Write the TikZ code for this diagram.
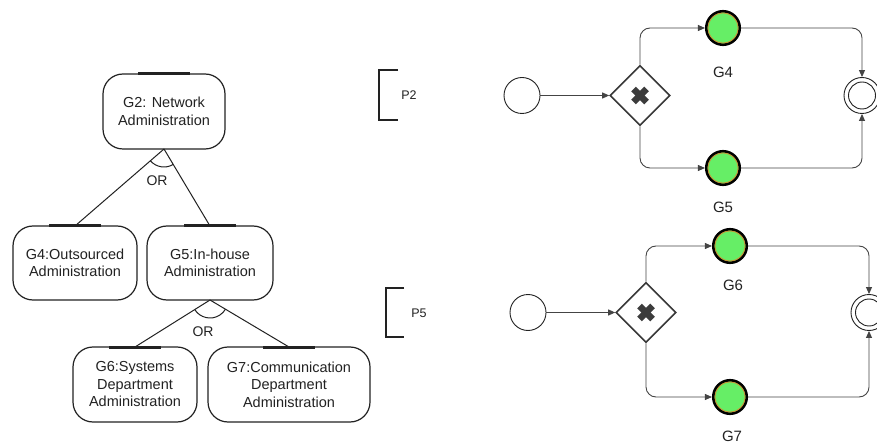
\documentclass[tikz,border=0pt]{standalone}
\usepackage{fontspec}
\setmainfont{Liberation Sans}
\usetikzlibrary{arrows.meta,angles,shapes.geometric}
\definecolor{ink}{HTML}{222222}
\definecolor{flowgray}{HTML}{444444}
\definecolor{taskgreen}{HTML}{66EE66}
\definecolor{taskring}{HTML}{D08A30}
\definecolor{xgray}{HTML}{3C3C3C}

\begin{document}
\begin{tikzpicture}[x=1pt,y=1pt,
  goal/.style={draw=ink, line width=1.2pt, rounded corners=20pt, align=center,
    inner sep=0pt, outer sep=0pt, font=\fontsize{14.5}{17.5}\selectfont, text=ink},
  goalbar/.style={draw=ink, line width=3pt},
  refine/.style={draw=ink, line width=1pt},
  orarc/.style={draw=ink, line width=1pt, angle radius=18pt},
  orlabel/.style={font=\fontsize{14}{16}\selectfont, text=ink},
  bracket/.style={draw=ink, line width=1.2pt},
  plabel/.style={font=\fontsize{12.5}{14}\selectfont, text=ink},
  startev/.style={circle, draw=ink, line width=0.9pt, fill=white,
    minimum size=36pt, inner sep=0pt},
  endev/.style={circle, draw=ink, line width=0.9pt, fill=white,
    minimum size=36pt, inner sep=0pt},
  gateway/.style={diamond, draw=ink!90, line width=1.6pt, fill=white,
    minimum width=60pt, minimum height=60pt, inner sep=0pt},
  xmark/.style={draw=xgray, line width=6.5pt},
  task/.style={circle, draw=black, line width=2.6pt, fill=taskgreen,
    minimum size=33.5pt, inner sep=0pt},
  tasklabel/.style={font=\fontsize{15}{18}\selectfont, text=ink},
  flow/.style={draw=flowgray, line width=0.9pt, rounded corners=10pt,
    -{Triangle[length=7pt,width=6pt]}},
]
\path[fill=white, use as bounding box] (0,0) rectangle (877,-443);

% ---------- goal refinement tree ----------
\node[goal, minimum width=122pt, minimum height=75pt] (g2) at (164,-111.5)
  {G2: Network\\Administration};
\node[goal, minimum width=124pt, minimum height=74pt] (g4) at (75,-263)
  {G4:Outsourced\\Administration};
\node[goal, minimum width=126pt, minimum height=74pt] (g5) at (210,-263)
  {G5:In-house\\Administration};
\node[goal, minimum width=124pt, minimum height=75pt] (g6) at (135,-384.5)
  {G6:Systems\\Department\\Administration};
\node[goal, minimum width=162pt, minimum height=75pt] (g7) at (289,-384.5)
  {G7:Communication\\Department\\Administration};

\foreach \g in {g2,g4,g5,g6,g7}
  \draw[goalbar] ([xshift=-26pt]\g.north) -- ([xshift=26pt]\g.north);

\coordinate (v2) at (g2.south);
\coordinate (v5) at (g5.south);
\coordinate (t4top) at (g4.north);
\coordinate (t5top) at (g5.north);
\coordinate (t6top) at (g6.north);
\coordinate (t7top) at (g7.north);

\draw[refine] (v2) -- (t4top);
\draw[refine] (v2) -- (t5top);
\draw[refine] (v5) -- (t6top);
\draw[refine] (v5) -- (t7top);

\pic[orarc] {angle = t4top--v2--t5top};
\pic[orarc] {angle = t6top--v5--t7top};
\node[orlabel] (or2) at (157,-181) {OR};
\node[orlabel] (or5) at (203,-332) {OR};

% ---------- process brackets ----------
\draw[bracket] (398,-70) -- (379,-70) -- (379,-120) -- (398,-120);
\node[plabel] (p2) at (409,-95) {P2};
\draw[bracket] (404,-288) -- (386,-288) -- (386,-337) -- (404,-337);
\node[plabel] (p5) at (419,-313) {P5};

% ---------- process P2 ----------
\node[startev] (s1) at (522,-95.5) {};
\node[gateway] (d1) at (640,-95.5) {};
\draw[xmark] ([shift={(-6.5,-6.5)}]d1.center) -- ([shift={(6.5,6.5)}]d1.center);
\draw[xmark] ([shift={(-6.5,6.5)}]d1.center) -- ([shift={(6.5,-6.5)}]d1.center);
\node[task] (t4) at (723,-28) {};
\draw[taskring, line width=0.8pt] (t4.center) circle[radius=15pt];
\node[task] (t5) at (723,-168) {};
\draw[taskring, line width=0.8pt] (t5.center) circle[radius=15pt];
\node[endev] (e1) at (862,-95.5) {};
\draw[ink, line width=0.9pt] (e1.center) circle[radius=13.5pt];
\node[tasklabel] (l4) at (723,-72) {G4};
\node[tasklabel] (l5) at (723,-207) {G5};

\draw[flow] (s1.east) -- (d1.west);
\draw[flow] (d1.north) |- (t4.west);
\draw[flow] (d1.south) |- (t5.west);
\draw[flow] (t4.east) -| (e1.north);
\draw[flow] (t5.east) -| (e1.south);

% ---------- process P5 ----------
\node[startev] (s2) at (528,-312.5) {};
\node[gateway] (d2) at (646,-312.5) {};
\draw[xmark] ([shift={(-6.5,-6.5)}]d2.center) -- ([shift={(6.5,6.5)}]d2.center);
\draw[xmark] ([shift={(-6.5,6.5)}]d2.center) -- ([shift={(6.5,-6.5)}]d2.center);
\node[task] (t6) at (730,-246) {};
\draw[taskring, line width=0.8pt] (t6.center) circle[radius=15pt];
\node[task] (t7) at (730,-397) {};
\draw[taskring, line width=0.8pt] (t7.center) circle[radius=15pt];
\node[endev] (e2) at (869,-312.5) {};
\draw[ink, line width=0.9pt] (e2.center) circle[radius=13.5pt];
\node[tasklabel] (l6) at (733,-285) {G6};
\node[tasklabel] (l7) at (732,-436) {G7};

\draw[flow] (s2.east) -- (d2.west);
\draw[flow] (d2.north) |- (t6.west);
\draw[flow] (d2.south) |- (t7.west);
\draw[flow] (t6.east) -| (e2.north);
\draw[flow] (t7.east) -| (e2.south);
\end{tikzpicture}
\end{document}
